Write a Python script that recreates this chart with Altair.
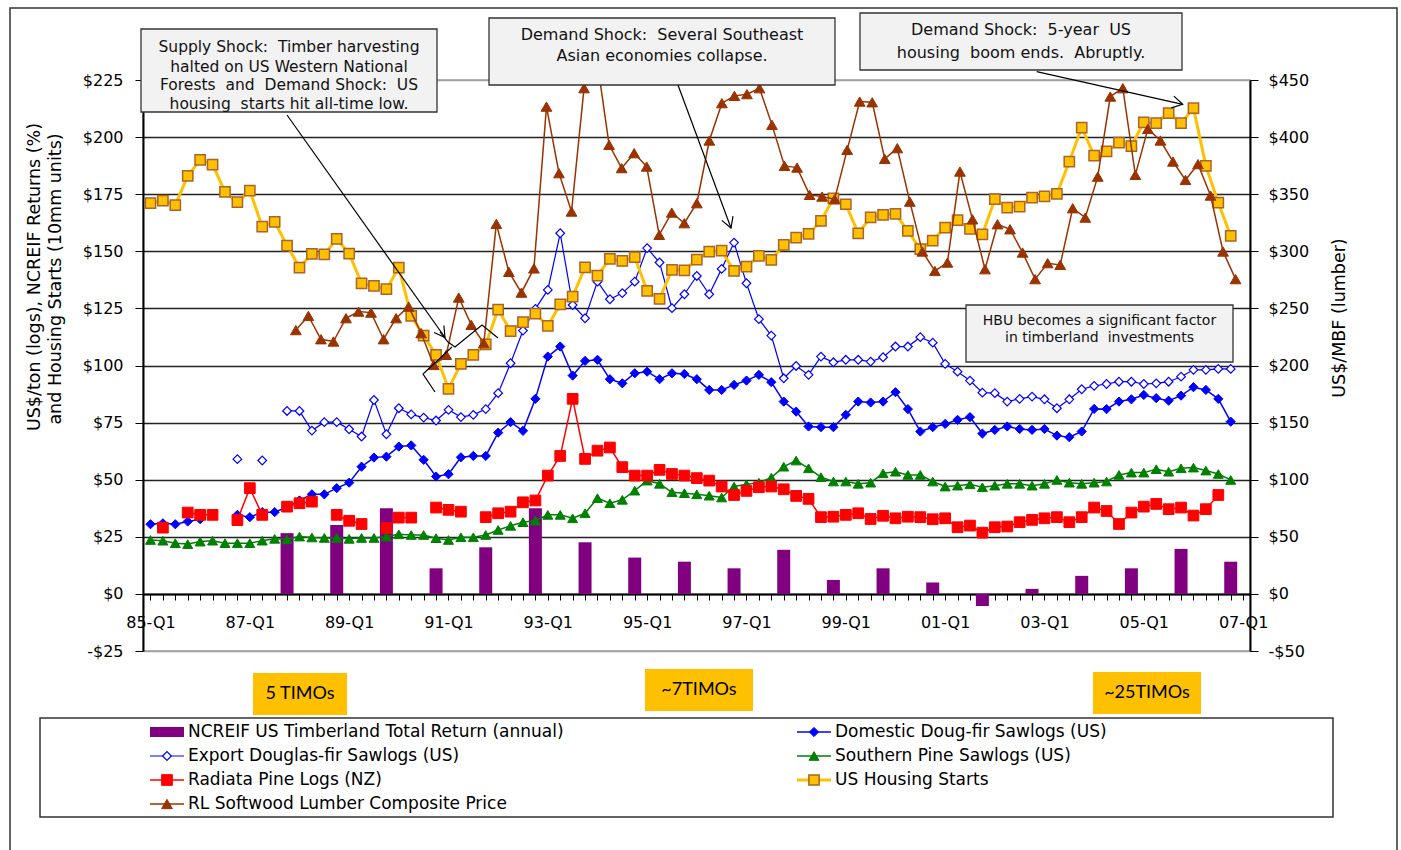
import math
import altair as alt
import pandas as pd

# ---------------------------------------------------------------------------
# Quarterly series, index 0 = 1985 Q1 ... index 87 = 2006 Q4 (None = no data)
# ---------------------------------------------------------------------------
housing_starts = [
    171.1, 172.2, 170.2, 183.0, 190.0, 188.0, 176.0, 171.5, 176.6, 160.8,
    162.9, 152.5, 142.9, 148.9, 148.6, 155.4, 149.0, 136.0, 134.9, 133.4,
    142.9, 121.7, 113.1, 104.6, 89.8, 100.7, 104.6, 109.3, 124.5, 115.1,
    119.0, 122.7, 117.3, 126.8, 130.2, 143.0, 139.4, 146.7, 145.8, 147.4,
    132.7, 129.2, 141.9, 141.6, 146.4, 149.9, 150.3, 141.4, 143.3, 148.0,
    146.2, 152.8, 156.0, 157.6, 163.3, 173.2, 170.6, 157.9, 164.9, 165.9,
    166.4, 158.9, 150.9, 154.7, 160.4, 163.6, 159.8, 157.4, 172.8, 169.1,
    169.6, 173.5, 174.0, 175.1, 189.3, 204.2, 191.9, 193.7, 197.6, 196.1,
    206.5, 206.1, 210.5, 206.1, 212.7, 187.4, 171.3, 156.7,
]

lumber_price = [None] * 12 + [
    231.0, 243.4, 223.0, 221.0, 241.4, 247.2, 246.3, 223.0, 241.4, 251.6,
    228.3, 200.5, 209.3, 259.5, 235.6, 219.5, 324.0, 282.0, 263.8, 285.0,
    426.7, 368.4, 334.8, 442.8, 470.0, 393.2, 372.8, 385.9, 374.2, 314.4,
    333.9, 324.6, 342.1, 397.0, 429.7, 436.1, 437.6, 442.8, 410.7, 374.8,
    373.3, 349.4, 347.9, 345.6, 388.8, 431.1, 430.5, 380.9, 390.3, 343.5,
    299.8, 282.8, 290.1, 369.8, 328.0, 284.3, 323.7, 319.3, 298.9, 275.6,
    289.6, 288.1, 337.7, 329.5, 365.4, 435.5, 442.8, 366.9, 407.2, 397.0,
    378.6, 362.5, 376.3, 348.8, 299.8, 275.6,
]

southern_pine = [
    23.6, 23.3, 22.2, 21.8, 22.9, 23.3, 22.2, 22.2, 22.2, 23.3,
    24.1, 23.9, 25.1, 24.7, 24.5, 24.5, 24.1, 24.5, 24.5, 25.1,
    26.1, 25.8, 25.8, 24.4, 23.6, 24.8, 24.8, 25.8, 28.0, 29.8,
    31.4, 32.1, 34.6, 34.6, 33.1, 35.3, 41.9, 39.7, 41.2, 45.2,
    49.6, 48.2, 44.5, 44.1, 43.6, 43.0, 42.2, 47.0, 48.0, 48.7,
    50.9, 55.7, 58.4, 55.0, 51.1, 49.2, 49.2, 48.2, 48.7, 52.8,
    53.5, 52.1, 52.1, 49.2, 47.0, 47.4, 48.0, 46.7, 47.4, 48.2,
    48.2, 47.4, 48.2, 49.9, 48.7, 48.2, 48.7, 49.2, 52.1, 53.1,
    53.1, 54.6, 53.5, 55.0, 55.3, 54.0, 52.5, 49.9,
]

radiata_pine = [
    None, 29.0, None, 35.6, 34.6, 34.6, None, 32.3, 46.3, 34.6,
    None, 38.2, 39.7, 40.4, None, 34.6, 32.0, 30.6, None, 28.8,
    33.4, 33.4, None, 37.8, 36.8, 36.0, None, 33.6, 35.3, 36.0,
    40.1, 40.9, 51.8, 60.4, 85.4, 59.1, 62.7, 64.1, 55.5, 51.8,
    51.8, 54.3, 52.5, 51.8, 50.7, 49.6, 47.0, 43.3, 45.1, 46.7,
    47.0, 45.8, 42.9, 41.6, 33.6, 33.8, 34.6, 35.3, 32.8, 34.2,
    33.1, 33.8, 33.6, 32.7, 33.1, 29.2, 29.9, 26.8, 29.2, 29.5,
    31.4, 32.4, 33.1, 33.6, 31.4, 33.6, 37.8, 36.3, 30.6, 35.6,
    38.2, 39.4, 37.1, 37.8, 34.3, 37.1, 43.3, None,
]

domestic_doug_fir = [
    30.5, 30.9, 30.5, 31.7, 32.7, None, None, 34.6, 33.6, 35.8,
    35.8, 38.0, 40.9, 43.6, 43.6, 46.3, 48.7, 55.7, 59.7, 60.1,
    64.5, 65.0, 58.7, 51.4, 52.4, 59.8, 60.4, 60.4, 70.6, 75.2,
    71.4, 85.4, 103.9, 108.3, 95.6, 102.0, 102.5, 94.0, 92.2, 96.6,
    97.3, 94.0, 96.6, 96.3, 94.0, 89.3, 89.3, 91.5, 93.4, 95.9,
    92.7, 84.2, 79.8, 73.3, 73.0, 73.0, 78.4, 84.2, 83.8, 84.2,
    88.3, 80.9, 71.1, 73.0, 74.4, 76.2, 77.4, 70.2, 71.8, 73.3,
    72.2, 71.8, 72.2, 69.3, 68.6, 71.1, 81.0, 80.9, 84.2, 85.2,
    87.1, 85.7, 84.6, 86.8, 90.5, 89.3, 85.4, 75.4,
]

export_douglas_fir = [
    None, None, None, None, None, None, None, 59.0, None, 58.4,
    None, 80.1, 80.1, 71.5, 75.2, 75.2, 72.1, 68.9, 84.9, 69.9,
    81.3, 78.6, 77.2, 75.9, 80.6, 77.4, 78.4, 80.9, 87.9, 101.0,
    115.3, 124.8, 133.1, 157.9, 126.5, 120.7, 136.7, 129.0, 131.7, 136.7,
    151.4, 145.1, 125.1, 131.2, 139.2, 131.2, 142.3, 153.8, 136.0, 120.3,
    113.1, 94.4, 99.8, 95.9, 103.9, 101.4, 102.5, 102.5, 101.7, 103.6,
    108.3, 108.3, 112.4, 110.0, 100.7, 97.3, 93.4, 88.1, 87.9, 84.2,
    85.4, 86.4, 85.2, 81.3, 85.2, 89.6, 91.1, 91.9, 92.9, 92.9,
    91.9, 92.2, 92.9, 95.1, 98.1, 98.1, 98.5, 98.5,
]

# Annual NCREIF timberland total return (%), plotted at Q4 of each year
ncreif_years = list(range(1987, 2007))
ncreif_return = [26.6, 30.2, 37.5, 11.2, 20.4, 37.5, 22.6, 15.9, 14.1, 11.2,
                 19.3, 6.1, 11.2, 5.0, -5.3, 2.2, 7.9, 11.2, 19.7, 14.1]

x_tick_labels = ["85-Q1", "87-Q1", "89-Q1", "91-Q1", "93-Q1", "95-Q1",
                 "97-Q1", "99-Q1", "01-Q1", "03-Q1", "05-Q1", "07-Q1"]

legend_entries = [
    ("NCREIF US Timberland Total Return (annual)", "ncreif", 0, 0),
    ("Export Douglas-fir Sawlogs (US)", "export", 0, 1),
    ("Radiata Pine Logs (NZ)", "radiata", 0, 2),
    ("RL Softwood Lumber Composite Price", "lumber", 0, 3),
    ("Domestic Doug-fir Sawlogs (US)", "domestic", 1, 0),
    ("Southern Pine Sawlogs (US)", "southern", 1, 1),
    ("US Housing Starts", "housing", 1, 2),
]

# ---------------------------------------------------------------------------
# Layout and styles
# ---------------------------------------------------------------------------
FONT = "DejaVu Sans"
PLOT_W, PLOT_H = 1107, 571
ORIGIN_X, ORIGIN_Y = 143, 80          # top-left corner of the plot area on the page
X_DOMAIN = [-0.2, 88.15]
N_Q = len(housing_starts)
quarters = list(range(N_Q))

STYLE = {
    "ncreif":   dict(line="#800080"),
    "domestic": dict(line="#0000FF", lw=1.5, shape="diamond", size=85, fill="#0000FF", stroke="#0000FF", sw=1),
    "export":   dict(line="#0000FF", lw=1.2, shape="diamond", size=75, fill="#FFFFFF", stroke="#0000FF", sw=1.2),
    "southern": dict(line="#008000", lw=1.5, shape="triangle-up", size=100, fill="#008000", stroke="#008000", sw=1),
    "radiata":  dict(line="#FF0000", lw=1.5, shape="square", size=115, fill="#FF0000", stroke="#FF0000", sw=1),
    "housing":  dict(line="#FFC000", lw=3, shape="square", size=105, fill="#FFC000", stroke="#A8642A", sw=1.5),
    "lumber":   dict(line="#993300", lw=1.5, shape="triangle-up", size=115, fill="#993300", stroke="#993300", sw=1),
}


def keep_spaces(s):
    # SVG collapses runs of spaces; keep the wide gaps of the callout texts
    return s.replace("  ", " \u00a0")


label_list = ",".join("'%s'" % s for s in x_tick_labels)
x_axis = alt.Axis(
    values=list(range(0, 89)),
    labelExpr="datum.value %% 8 == 0 ? [%s][datum.value / 8] : ''" % label_list,
    labelFlush=False, labelOverlap=False, grid=False,
    domainColor="black", domainWidth=2, tickColor="black", tickSize=6, tickWidth=1,
    labelPadding=14, labelFont=FONT, labelFontSize=16, labelColor="black",
    title=None, offset=-57,
)
X_LEFT = alt.X("q:Q", scale=alt.Scale(domain=X_DOMAIN, nice=False, zero=False), axis=x_axis)
X_RIGHT = alt.X("q:Q", scale=alt.Scale(domain=X_DOMAIN, nice=False, zero=False), axis=None)

money_expr = "(datum.value < 0 ? '-$' : '$') + abs(datum.value)"
Y_LEFT = alt.Y(
    "v:Q", scale=alt.Scale(domain=[-25, 225], nice=False, zero=False),
    axis=alt.Axis(
        values=list(range(-25, 226, 25)), labelExpr=money_expr,
        grid=True, gridWidth=1.3,
        gridColor={"condition": {"test": "datum.value == 225 || datum.value == -25", "value": "#A0A0A0"},
                   "value": "#222222"},
        domainColor="black", domainWidth=2, tickColor="black", tickSize=8,
        labelPadding=12, labelFont=FONT, labelFontSize=16, labelColor="black", title=None,
    ),
)
Y_RIGHT = alt.Y(
    "v:Q", scale=alt.Scale(domain=[-50, 450], nice=False, zero=False),
    axis=alt.Axis(
        orient="right", values=list(range(-50, 451, 50)), labelExpr=money_expr,
        grid=False, domainColor="black", domainWidth=2, tickColor="black", tickSize=8,
        labelPadding=10, labelFont=FONT, labelFontSize=16, labelColor="black", title=None,
    ),
)


def series_layers(values, key, x_enc, y_enc):
    st = STYLE[key]
    df = pd.DataFrame({"q": quarters, "v": values})
    base = alt.Chart(df)
    line = base.mark_line(color=st["line"], strokeWidth=st["lw"]).encode(x=x_enc, y=y_enc)
    pts = base.transform_filter("isValid(datum.v)").mark_point(
        shape=st["shape"], size=st["size"], filled=True, fill=st["fill"],
        stroke=st["stroke"], strokeWidth=st["sw"], opacity=1,
    ).encode(x=x_enc, y=y_enc)
    return [line, pts]


# ---------------------------------------------------------------------------
# Left-axis group: NCREIF bars plus log prices and housing starts
# ---------------------------------------------------------------------------
bars_df = pd.DataFrame({"q": [(y - 1985) * 4 + 3 for y in ncreif_years], "v": ncreif_return})
bars = alt.Chart(bars_df).mark_bar(color=STYLE["ncreif"]["line"], size=13).encode(
    x=X_LEFT, y=Y_LEFT, y2=alt.datum(0)
)

left_layers = [bars]
left_layers += series_layers(domestic_doug_fir, "domestic", X_LEFT, Y_LEFT)
left_layers += series_layers(export_douglas_fir, "export", X_LEFT, Y_LEFT)
left_layers += series_layers(southern_pine, "southern", X_LEFT, Y_LEFT)
left_layers += series_layers(radiata_pine, "radiata", X_LEFT, Y_LEFT)
left_layers += series_layers(housing_starts, "housing", X_LEFT, Y_LEFT)
left = alt.layer(*left_layers)

# Right-axis group: lumber composite price
right = alt.layer(*series_layers(lumber_price, "lumber", X_RIGHT, Y_RIGHT))

# ---------------------------------------------------------------------------
# Annotations, legend and titles (page pixel positions, shifted to the plot origin)
# ---------------------------------------------------------------------------
PX = lambda f: alt.X(f, type="quantitative", scale=None, axis=None)
PY = lambda f: alt.Y(f, type="quantitative", scale=None, axis=None)


def rx(x):
    return x - ORIGIN_X


def ry(y):
    return y - ORIGIN_Y


callouts = [
    dict(box=(141, 29, 437, 112), size=15.5, ys=[47, 66.5, 85, 103.5],
         lines=["Supply Shock:  Timber harvesting", "halted on US Western National",
                "Forests  and  Demand Shock:  US", "housing  starts hit all-time low."]),
    dict(box=(489, 18, 835, 85), size=16, ys=[34.5, 56],
         lines=["Demand Shock:  Several Southeast", "Asian economies collapse."]),
    dict(box=(860, 13, 1182, 70), size=16, ys=[30, 52.5],
         lines=["Demand Shock:  5-year  US", "housing  boom ends.  Abruptly."]),
    dict(box=(966, 305, 1233, 362), size=14, ys=[321, 338],
         lines=["HBU becomes a significant factor", "in timberland  investments"]),
]

box_rows, box_text = [], []
for c in callouts:
    x1, y1, x2, y2 = c["box"]
    box_rows.append(dict(x=rx(x1), x2=rx(x2), y=ry(y1), y2=ry(y2)))
    for t, yy in zip(c["lines"], c["ys"]):
        box_text.append(dict(x=rx((x1 + x2) / 2), y=ry(yy), t=keep_spaces(t), s=c["size"]))

boxes = alt.Chart(pd.DataFrame(box_rows)).mark_rect(
    fill="#F2F2F2", stroke="#333333", strokeWidth=1.3
).encode(x=PX("x"), x2="x2:Q", y=PY("y"), y2="y2:Q")

box_labels = alt.Chart(pd.DataFrame(box_text)).mark_text(
    font=FONT, color="#111111", align="center", baseline="middle"
).encode(x=PX("x"), y=PY("y"), text="t:N", size=alt.Size("s:Q", scale=None, legend=None))

# arrows: straight shafts with open V heads, plus two free-hand strokes
arrows = [((287, 115), (445, 337.5)), ((678, 85), (731, 228)), ((1036.7, 71.7), (1182.7, 104.3))]
strokes = [[(435, 392), (423, 374), (452, 347)],
           [(440, 332), (448, 342), (455, 347), (482, 325), (498, 338)]]

path_rows = []
pid = 0
for (sx, sy), (ex, ey) in arrows:
    path_rows += [dict(id=pid, o=0, x=rx(sx), y=ry(sy)), dict(id=pid, o=1, x=rx(ex), y=ry(ey))]
    pid += 1
    ang = math.atan2(sy - ey, sx - ex)
    head = [(ex + 12 * math.cos(ang + d), ey + 12 * math.sin(ang + d)) for d in (math.radians(30), math.radians(-30))]
    path_rows += [dict(id=pid, o=0, x=rx(head[0][0]), y=ry(head[0][1])),
                  dict(id=pid, o=1, x=rx(ex), y=ry(ey)),
                  dict(id=pid, o=2, x=rx(head[1][0]), y=ry(head[1][1]))]
    pid += 1
for pts in strokes:
    for i, (px_, py_) in enumerate(pts):
        path_rows.append(dict(id=pid, o=i, x=rx(px_), y=ry(py_)))
    pid += 1

arrow_lines = alt.Chart(pd.DataFrame(path_rows)).mark_line(color="black", strokeWidth=1.2).encode(
    x=PX("x"), y=PY("y"), detail="id:N", order="o:Q"
)

# TIMO count tags below the axis
timos = [(253, 673, 347, 715, "5 TIMOs"), (645, 669, 753, 711, "~7TIMOs"), (1093, 672, 1201, 714, "~25TIMOs")]
timo_df = pd.DataFrame([dict(x=rx(a), x2=rx(c), y=ry(b), y2=ry(d), cx=rx((a + c) / 2), cy=ry((b + d) / 2), t=t)
                        for a, b, c, d, t in timos])
timo_boxes = alt.Chart(timo_df).mark_rect(fill="#FFC000").encode(x=PX("x"), x2="x2:Q", y=PY("y"), y2="y2:Q")
timo_text = alt.Chart(timo_df).mark_text(font="Lato", fontSize=18, color="black",
                                         align="center", baseline="middle").encode(
    x=PX("cx"), y=PY("cy"), text="t:N")

# legend
legend_frame = alt.Chart(pd.DataFrame([dict(x=rx(40), x2=rx(1333), y=ry(718), y2=ry(817))])).mark_rect(
    fill="white", stroke="#333333", strokeWidth=1.5
).encode(x=PX("x"), x2="x2:Q", y=PY("y"), y2="y2:Q")

legend_layers = [legend_frame]
text_rows = []
for label, key, col, row in legend_entries:
    x0 = 150 if col == 0 else 797
    yc = 732 + 24 * row
    st = STYLE[key]
    text_rows.append(dict(x=rx(x0 + 38), y=ry(yc), t=label))
    if key == "ncreif":
        d = pd.DataFrame([dict(x=rx(x0), x2=rx(x0 + 34), y=ry(yc - 5), y2=ry(yc + 5))])
        legend_layers.append(alt.Chart(d).mark_rect(fill=st["line"]).encode(
            x=PX("x"), x2="x2:Q", y=PY("y"), y2="y2:Q"))
        continue
    d = pd.DataFrame([dict(x=rx(x0), x2=rx(x0 + 34), y=ry(yc), mx=rx(x0 + 17))])
    legend_layers.append(alt.Chart(d).mark_rule(color=st["line"], strokeWidth=st["lw"]).encode(
        x=PX("x"), x2="x2:Q", y=PY("y")))
    legend_layers.append(alt.Chart(d).mark_point(
        shape=st["shape"], size=st["size"], filled=True, fill=st["fill"],
        stroke=st["stroke"], strokeWidth=st["sw"], opacity=1).encode(x=PX("mx"), y=PY("y")))

legend_text = alt.Chart(pd.DataFrame(text_rows)).mark_text(
    font=FONT, fontSize=17, color="black", align="left", baseline="middle"
).encode(x=PX("x"), y=PY("y"), text="t:N")
legend_layers.append(legend_text)

# axis titles
title_df = pd.DataFrame([
    dict(x=rx(35), y=ry(277), t="US$/ton (logs), NCREIF Returns (%)"),
    dict(x=rx(56), y=ry(279), t="and Housing Starts (10mm units)"),
    dict(x=rx(1340), y=ry(318), t="US$/MBF (lumber)"),
])
axis_titles = alt.Chart(title_df).mark_text(
    font=FONT, fontSize=17.5, color="black", angle=270, align="center", baseline="middle"
).encode(x=PX("x"), y=PY("y"), text="t:N")

# outer frame around the whole figure
frame = alt.Chart(pd.DataFrame([dict(x=rx(10), x2=rx(1397), y=ry(8), y2=ry(862))])).mark_rect(
    fill=None, stroke="#333333", strokeWidth=1.5
).encode(x=PX("x"), x2="x2:Q", y=PY("y"), y2="y2:Q")

deco = alt.layer(boxes, box_labels, arrow_lines, timo_boxes, timo_text, *legend_layers, axis_titles, frame)

chart = alt.layer(left, right, deco).resolve_scale(
    x="independent", y="independent"
).properties(
    width=PLOT_W, height=PLOT_H,
    padding={"left": ORIGIN_X, "top": ORIGIN_Y, "right": 1401 - ORIGIN_X - PLOT_W,
             "bottom": 850 - ORIGIN_Y - PLOT_H},
    autosize=alt.AutoSizeParams(type="none"),
    background="white",
).configure_view(stroke="#A0A0A0", strokeWidth=1.5)

chart.save("out.html", embed_options={"renderer": "svg", "actions": False})
